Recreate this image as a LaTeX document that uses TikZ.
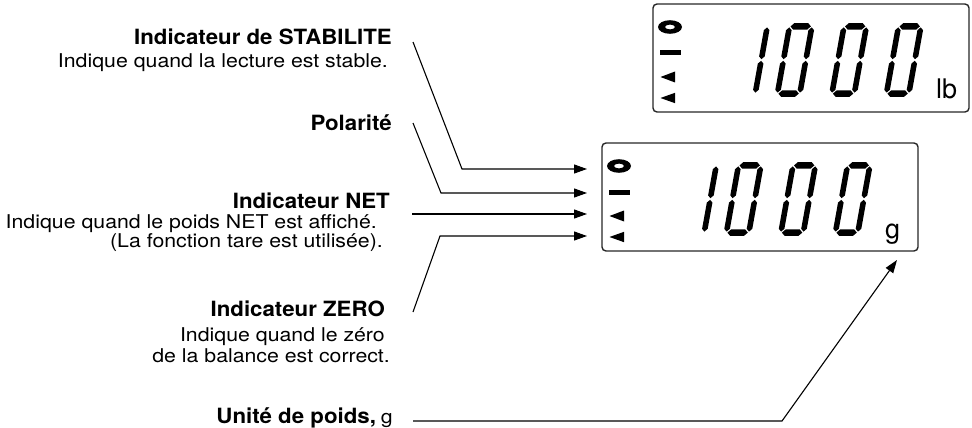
\documentclass[tikz,border=0pt]{standalone}
\usepackage{fontspec}
\setmainfont{TeX Gyre Heros}
\usepackage{graphicx}
\usetikzlibrary{arrows.meta}

\def\hh{3.2}
\def\vh{2.8}
\newcommand\hsegm[3]{\fill ({#1},{-(#3)}) -- ({#1+\hh},{-(#3)-\hh}) -- ({#2-\hh},{-(#3)-\hh}) -- ({#2},{-(#3)}) -- ({#2-\hh},{-(#3)+\hh}) -- ({#1+\hh},{-(#3)+\hh}) -- cycle;}
\newcommand\vsegm[3]{\fill ({#1},{-(#2)}) -- ({#1+\vh},{-(#2)-\vh}) -- ({#1+\vh},{-(#3)+\vh}) -- ({#1},{-(#3)}) -- ({#1-\vh},{-(#3)+\vh}) -- ({#1-\vh},{-(#2)-\vh}) -- cycle;}
\newcommand\dzero[1]{\begin{scope}[shift={(#1,93)},xslant=0.18]
\hsegm{3.8}{24.2}{70.6}\hsegm{3.8}{24.2}{3.4}
\vsegm{2.8}{37.8}{69.6}\vsegm{2.8}{4.4}{36.2}\vsegm{25.2}{37.8}{69.6}\vsegm{25.2}{4.4}{36.2}
\end{scope}}
\newcommand\done[1]{\begin{scope}[shift={(#1,93)},xslant=0.18]
\vsegm{25.2}{37.8}{69.6}\vsegm{25.2}{4.4}{36.2}
\end{scope}}

\newcommand\boldlbl[1]{\scalebox{1.06}[1]{\fontsize{21}{25}\selectfont\bfseries #1}}
\newcommand\plainlbl[1]{\scalebox{1.12}[1]{\fontsize{19}{23}\selectfont #1}}

\tikzset{
  conn/.style={line width=1.1pt, -{Triangle[length=13pt,width=9pt]}},
  lbl/.style={anchor=base east, inner sep=0pt},
  lcdbox/.style={draw=black!85, line width=1.4pt, rounded corners=4pt, minimum width=316pt, minimum height=108pt, inner sep=0pt},
  unitlbl/.style={anchor=base west, inner sep=0pt, font=\fontsize{27}{30}\selectfont}
}

% #1 prefix, #2 x, #3 y, #4 unit
\newcommand\lcd[4]{%
\begin{scope}[shift={(#2,#3)}]
  \node[lcdbox] (#1box) at (158,54) {};
  \fill[even odd rule] (17,23) ellipse [x radius=12, y radius=6.8] (17,23) ellipse [x radius=5, y radius=2.4];
  \fill (6.5,46.5) rectangle (28,51.5);
  \fill (7.5,73) -- (22,67.5) -- (22,78.5) -- cycle;
  \fill (7.5,94) -- (22,88.8) -- (22,99.2) -- cycle;
  \coordinate (#1stab) at (-15,26);
  \coordinate (#1pol) at (-15,50);
  \coordinate (#1net) at (-15,71);
  \coordinate (#1zero) at (-15,93);
  \coordinate (#1unit) at (295,117);
  \done{76.4}
  \dzero{121}
  \dzero{175.5}
  \dzero{230}
  \node[unitlbl] (#1unitlbl) at (283,95) {#4};
\end{scope}}

\begin{document}
\begin{tikzpicture}[x=1pt,y=-1pt]
\useasboundingbox (0,0) rectangle (972,428);

\lcd{a}{653}{4}{lb}
\lcd{b}{602}{143}{g}

\node[lbl] (tStab) at (392,45) {\boldlbl{Indicateur de STABILITE}};
\node[lbl] (dStab) at (388,67) {\plainlbl{Indique quand la lecture est stable.}};
\node[lbl] (tPol) at (392,130) {\boldlbl{Polarité}};
\node[lbl] (tNet) at (390,208) {\boldlbl{Indicateur NET}};
\node[lbl] (dNetA) at (377,228) {\plainlbl{Indique quand le poids NET est affiché.}};
\node[lbl] (dNetB) at (383,247) {\plainlbl{(La fonction tare est utilisée).}};
\node[lbl] (tZero) at (385,316) {\boldlbl{Indicateur ZERO}};
\node[lbl] (dZeroA) at (385,341) {\plainlbl{Indique quand le zéro}};
\node[lbl] (dZeroB) at (390,362) {\plainlbl{de la balance est correct.}};
\node[lbl] (tUnit) at (393,423) {\boldlbl{Unité de poids,}\hspace{5pt}\plainlbl{g}};

\coordinate (sStab) at (413,42);
\coordinate (kStab) at (462,169);
\coordinate (sPol) at (413,123);
\coordinate (kPol) at (441,193);
\coordinate (sNet) at (412,214);
\coordinate (sZero) at (413,312);
\coordinate (kZero) at (440,236);
\coordinate (sUnit) at (413,421);
\coordinate (kUnit) at (782,421);

\draw[conn] (sStab) -- (kStab) -- (bstab);
\draw[conn] (sPol) -- (kPol) -- (bpol);
\draw[conn] (sNet) -- (bnet);
\draw[conn] (sZero) -- (kZero) -- (bzero);
\draw[conn] (sUnit) -- (kUnit) -- (bunit);
\end{tikzpicture}
\end{document}
